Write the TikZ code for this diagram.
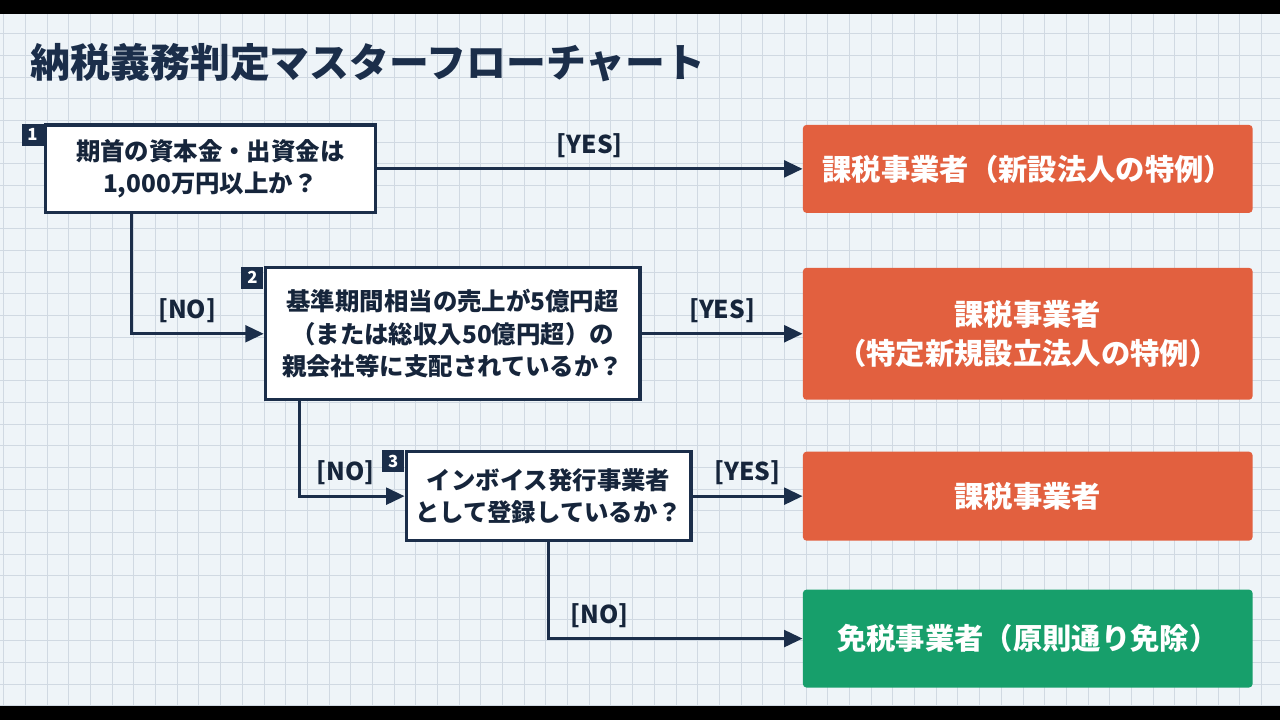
\documentclass[tikz,border=0pt]{standalone}
\usepackage{fontspec}
\setmainfont{Noto Sans CJK JP}
\usetikzlibrary{arrows.meta,positioning,calc}

\definecolor{navy}{HTML}{1B2E4A}
\definecolor{paper}{HTML}{EEF4F8}
\definecolor{gridc}{HTML}{D0D9E2}
\definecolor{taxed}{HTML}{E2603F}
\definecolor{exempt}{HTML}{179F6B}

\tikzset{
  question/.style = {draw = navy, line width = 1.8pt, fill = white, text = navy!80!black,
                     align = center, font = \fontsize{13.9}{18.5}\selectfont\bfseries},
  result/.style   = {fill = taxed, rounded corners = 2pt, text = white, align = center,
                     minimum width = 9cm, font = \fontsize{16.7}{22.5}\selectfont\bfseries},
  badge/.style    = {fill = navy, text = white, minimum size = 0.44cm, inner sep = 0pt,
                     font = \fontsize{9.5}{9.5}\selectfont\bfseries},
  flow/.style     = {draw = navy, line width = 1.8pt, -{Triangle[length = 10.5pt, width = 9.5pt]}},
  answer/.style   = {text = navy!80!black, font = \fontsize{14}{14}\selectfont\bfseries}
}

\begin{document}
\begin{tikzpicture}[x = 0.02cm, y = -0.02cm]
  % Paper and grid
  \fill[paper] (0,0) rectangle (1280,720);
  \foreach \i in {0,...,58}
    \draw[gridc, line width = 0.5pt] (3.3+21.7*\i,14) -- ++(0,692);
  \foreach \j in {0,...,32}
    \draw[gridc, line width = 0.5pt] (0,12+21.7*\j) -- ++(1280,0);
  \fill[black] (0,0) rectangle (1280,14);
  \fill[black] (0,706) rectangle (1280,720);

  % Title
  \node[anchor = west, inner sep = 0pt, text = navy,
        font = \fontsize{22.7}{26}\selectfont\bfseries] (title) at (30,63)
        {納税義務判定マスターフローチャート};

  % Questions
  \node[question, minimum width = 6.6cm, minimum height = 1.76cm] (q1) at (210,169)
        {期首の資本金・出資金は\\1,000万円以上か？};
  \node[question, minimum width = 7.5cm, minimum height = 2.64cm] (q2) at (452.5,334)
        {基準期間相当の売上が5億円超\\（または総収入50億円超）の\\親会社等に支配されているか？};
  \node[question, minimum width = 5.7cm, minimum height = 1.78cm] (q3) at (548.5,496.5)
        {インボイス発行事業者\\として登録しているか？};

  % Step numbers
  \node[badge, anchor = north east] (b1) at (q1.north west) {1};
  \node[badge, anchor = north east] (b2) at (q2.north west) {2};
  \node[badge, anchor = north east] (b3) at (q3.north west) {3};

  % Outcomes
  \node[result, minimum height = 1.76cm] (r1) at (1028,169)
        {課税事業者（新設法人の特例）};
  \node[result, minimum height = 2.64cm] (r2) at (1028,334)
        {課税事業者\\（特定新規設立法人の特例）};
  \node[result, minimum height = 1.78cm] (r3) at (1028,496.5) {課税事業者};
  \node[result, fill = exempt, minimum height = 1.96cm] (r4) at (1028,639)
        {免税事業者（原則通り免除）};

  % Yes branches
  \draw[flow] (q1) -- node[answer, above = 2pt] {[YES]} (r1);
  \draw[flow] (q2) -- node[answer, above = 2pt] {[YES]} (r2);
  \draw[flow] (q3) -- node[answer, above = 2pt] {[YES]} (r3);

  % No branches
  \draw[flow] ([xshift = 1.76cm]q1.south west) |- node[answer, above = 2pt, pos = 0.71] {[NO]} (q2.west);
  \draw[flow] ([xshift = 0.72cm]q2.south west) |- node[answer, above = 2pt, pos = 0.72] {[NO]} (q3.west);
  \draw[flow] (q3.south) |- node[answer, above = 2pt, pos = 0.6] {[NO]} (r4.west);
\end{tikzpicture}
\end{document}
